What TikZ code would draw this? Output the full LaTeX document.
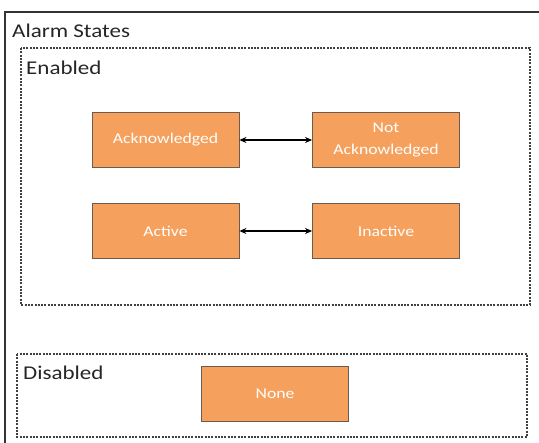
\documentclass[tikz,border=0pt]{standalone}
\usepackage{fontspec}
\setmainfont[FakeStretch=1.18]{Carlito}
\usetikzlibrary{arrows.meta}
\definecolor{boxorange}{HTML}{F5A05C}
\definecolor{boxedge}{HTML}{6B5A4E}
\begin{document}
\begin{tikzpicture}[x=1pt,y=-1pt,
  statebox/.style={draw=boxedge,line width=0.8pt,fill=boxorange,text=white,
    minimum width=147pt,minimum height=55pt,inner sep=0pt,align=center,
    font=\fontsize{15}{22.5}\selectfont},
  groupbox/.style={draw=black!75,line width=1.7pt,dash pattern=on 2pt off 1.3pt},
  lbl/.style={anchor=west,inner sep=0pt,text=black!85,font=\fontsize{19.5}{21}\selectfont},
  link/.style={{Stealth[length=7pt,width=6pt]}-{Stealth[length=7pt,width=6pt]},line width=1.4pt,black}]
\useasboundingbox (0,0) rectangle (539,443);
\fill[white] (0,0) rectangle (539,443);
% outer frame
\draw[black!80,line width=2.8pt] (5,445) -- (5,12) -- (541,12);
\node[lbl] (title) at (12,31) {Alarm States};
% enabled group
\draw[groupbox] (21,48) rectangle (530,305);
\node[lbl] (enabled) at (26,68) {Enabled};
% disabled group
\draw[groupbox] (17,354) rectangle (527,437);
\node[lbl] (disabled) at (23,373) {Disabled};
% states
\node[statebox] (ack) at (165.5,140) {Acknowledged};
\node[statebox] (nack) at (386,140) {Not\\Acknowledged};
\node[statebox] (act) at (165.5,231) {Active};
\node[statebox] (inact) at (386,231) {Inactive};
\node[statebox] (none) at (275,393.5) {None};
\draw[link] (ack) -- (nack);
\draw[link] (act) -- (inact);
\end{tikzpicture}
\end{document}
